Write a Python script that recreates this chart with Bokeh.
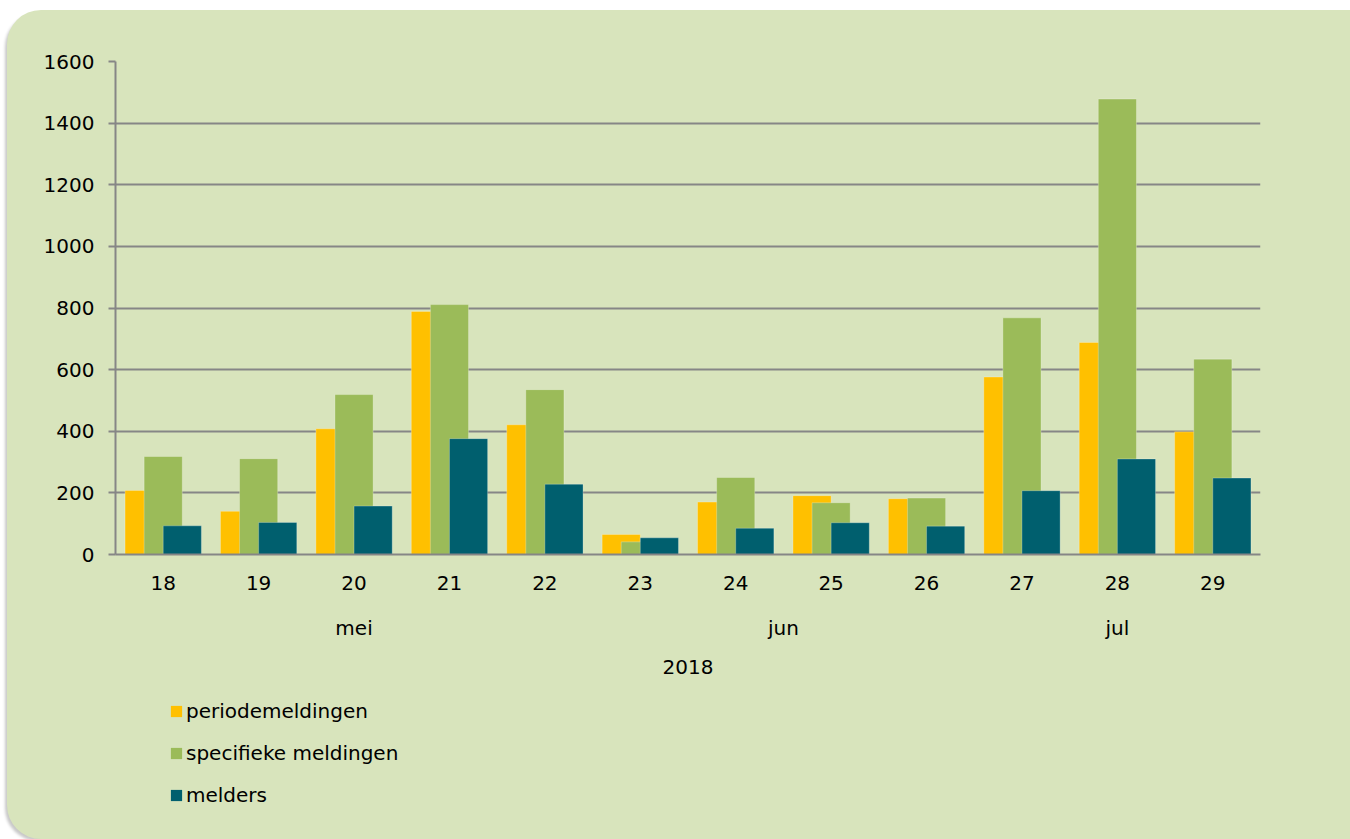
from bokeh.plotting import figure
from bokeh.layouts import column
from bokeh.models import (ColumnDataSource, FixedTicker, LinearAxis, Range1d,
                          Legend, LegendItem)
from bokeh.transform import dodge
from bokeh.embed import file_html
from bokeh.resources import INLINE

# ---- data ----
weeks = ["18", "19", "20", "21", "22", "23", "24", "25", "26", "27", "28", "29"]
months = ["mei", "jun", "jul"]
month_weeks = [["18", "19", "20", "21", "22"], ["23", "24", "25", "26"], ["27", "28", "29"]]
year = "2018"
series_names = ["periodemeldingen", "specifieke meldingen", "melders"]
periodemeldingen = [208, 140, 408, 789, 421, 65, 170, 191, 181, 576, 688, 398]
specifieke_meldingen = [318, 311, 519, 811, 535, 41, 250, 168, 183, 768, 1478, 634]
melders = [93, 104, 157, 376, 228, 54, 85, 103, 92, 207, 310, 248]
y_ticks = [0, 200, 400, 600, 800, 1000, 1200, 1400, 1600]

FONT = "DejaVu Sans"
BG = "#D8E4BC"
GRID = "#868686"
COLORS = ["#FFC000", "#9BBB59", "#005F6E"]

idx = list(range(len(weeks)))
src = ColumnDataSource(dict(x=idx, p=periodemeldingen, s=specifieke_meldingen, m=melders))
cols = ["p", "s", "m"]

p = figure(width=1343, height=690, output_backend="svg", toolbar_location=None,
           x_range=Range1d(-0.5, len(weeks) - 0.5), y_range=Range1d(0, 1600),
           min_border_left=108, min_border_right=90, min_border_top=51, min_border_bottom=146,
           background_fill_alpha=0, border_fill_alpha=0, outline_line_color=None)

bw = 0.4
offsets = [-0.2, 0.0, 0.2]
for col, off, c in zip(cols, offsets, COLORS):
    p.vbar(x=dodge("x", off, range=p.x_range), top=col, width=bw, bottom=0, source=src,
           fill_color=c, line_color="white", line_alpha=0.25, line_width=1)

# grid
p.xgrid.visible = False
p.ygrid.ticker = FixedTicker(ticks=y_ticks)
p.ygrid.grid_line_color = GRID
p.ygrid.grid_line_width = 2

# y axis
ya = p.yaxis[0]
ya.ticker = FixedTicker(ticks=y_ticks)
ya.axis_line_color = GRID
ya.axis_line_width = 2
ya.major_tick_line_color = GRID
ya.major_tick_line_width = 2
ya.major_tick_out = 7
ya.major_tick_in = 0
ya.minor_tick_line_color = None
ya.major_label_standoff = 14
ya.major_label_text_font = FONT
ya.major_label_text_font_size = "20px"
ya.major_label_text_color = "#000000"

# x axis (weeks)
xa = p.xaxis[0]
xa.ticker = FixedTicker(ticks=idx)
xa.major_label_overrides = {i: w for i, w in zip(idx, weeks)}
xa.axis_line_color = GRID
xa.axis_line_width = 2
xa.major_tick_line_color = None
xa.minor_tick_line_color = None
xa.major_tick_out = 0
xa.major_tick_in = 0
xa.major_label_standoff = 21
xa.major_label_text_font = FONT
xa.major_label_text_font_size = "20px"
xa.major_label_text_color = "#000000"


def label_axis(ticks, labels, standoff):
    ax = LinearAxis(ticker=FixedTicker(ticks=ticks),
                    major_label_overrides={t: l for t, l in zip(ticks, labels)},
                    axis_line_color=None, major_tick_line_color=None,
                    minor_tick_line_color=None, major_tick_out=0, major_tick_in=0,
                    major_label_standoff=standoff, major_label_text_font=FONT,
                    major_label_text_font_size="20px", major_label_text_color="#000000")
    p.add_layout(ax, "below")
    return ax


month_pos = [sum(weeks.index(w) for w in grp) / len(grp) for grp in month_weeks]
label_axis(month_pos, months, 23)
label_axis([(len(weeks) - 1) / 2], [year], 17)

# ---- legend panel (same series as hidden renderers; only the legend shows) ----
q = figure(width=1343, height=139, output_backend="svg", toolbar_location=None,
           x_range=Range1d(-0.5, len(weeks) - 0.5), y_range=Range1d(0, 1600),
           min_border_left=108, min_border_right=90, min_border_top=0, min_border_bottom=0,
           background_fill_alpha=0, border_fill_alpha=0, outline_line_color=None)
q.axis.visible = False
q.grid.visible = False
items = []
for name, col, c in zip(series_names, cols, COLORS):
    r = q.vbar(x="x", top=col, bottom=0, width=bw, source=src, fill_color=c, line_color=None,
               visible=False)
    items.append(LegendItem(label=name, renderers=[r]))

legend = Legend(items=items, location=(54, 32), orientation="vertical",
                glyph_width=14, glyph_height=14, label_standoff=3,
                label_height=20, spacing=18, padding=0, margin=0,
                label_text_font=FONT, label_text_font_size="20px",
                label_text_color="#000000", inactive_fill_alpha=0,
                border_line_color=None, background_fill_alpha=0)
q.add_layout(legend)

layout = column(p, q, spacing=0,
                styles={"margin-left": "7px", "margin-top": "10px",
                        "background-color": BG,
                        "border-radius": "34px 0 0 34px", "overflow": "hidden",
                        "box-shadow": "-3px 3px 3px -1px rgba(0,0,0,0.22)"})

open("out.html", "w").write(file_html(layout, INLINE))
